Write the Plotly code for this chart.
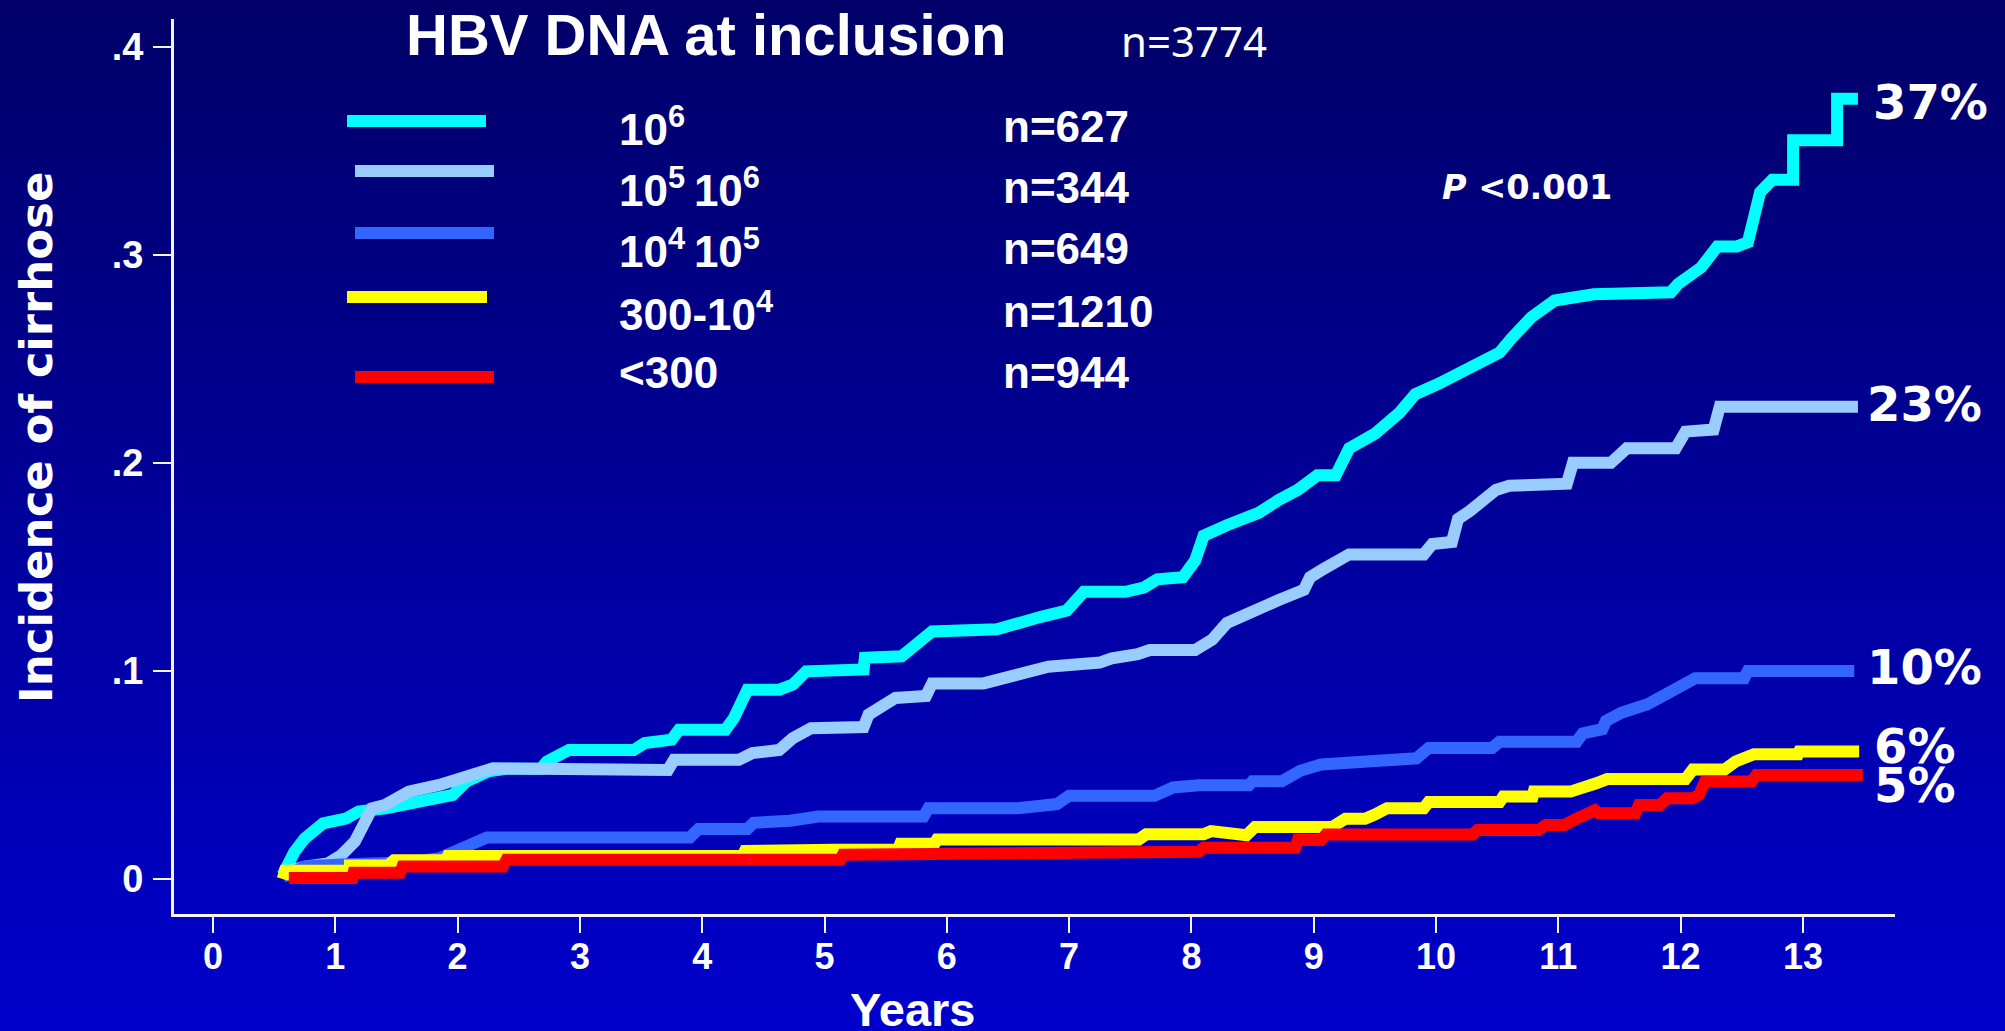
import plotly.graph_objects as go

# ---------------- data ----------------
group_labels = ["10<sup>6</sup>", "10<sup>5</sup>&#8201;10<sup>6</sup>", "10<sup>4</sup>&#8201;10<sup>5</sup>",
                "300-10<sup>4</sup>", "&lt;300"]
group_n = ["n=627", "n=344", "n=649", "n=1210", "n=944"]
end_labels = ["37%", "23%", "10%", "6%", "5%"]
colors = ["#00FFFF", "#99CCFF", "#3366FF", "#FFFF00", "#FF0000"]

x_ticks = list(range(0, 14))
y_ticks = [0, 0.1, 0.2, 0.3, 0.4]
y_ticktext = ["0", ".1", ".2", ".3", ".4"]

t_c1 = [0.57, 0.665, 0.75, 0.90, 1.085, 1.19, 1.41, 1.60, 1.85, 1.96, 2.07, 2.25, 2.40, 2.68, 2.73, 2.91,
        3.44, 3.53, 3.75, 3.81, 4.19, 4.26, 4.37, 4.63, 4.74, 4.85, 5.32, 5.33, 5.63, 5.73, 5.88, 6.41,
        6.57, 6.77, 6.98, 7.12, 7.46, 7.61, 7.72, 7.93, 8.03, 8.10, 8.29, 8.55, 8.71, 8.87, 9.03, 9.18,
        9.29, 9.50, 9.70, 9.83, 10.02, 10.18, 10.37, 10.52, 10.62, 10.78, 10.97, 11.29, 11.92, 11.98,
        12.17, 12.30, 12.46, 12.55, 12.60, 12.65, 12.75, 12.92, 12.92, 13.28, 13.28, 13.45]
v_c1 = [0.002, 0.013, 0.0195, 0.0267, 0.029, 0.0324, 0.034, 0.0364, 0.0388, 0.0404, 0.0468, 0.0517,
        0.053, 0.053, 0.0565, 0.062, 0.062, 0.0653, 0.067, 0.0717, 0.0717, 0.0774, 0.091, 0.091, 0.0934,
        0.0998, 0.1007, 0.1063, 0.107, 0.112, 0.119, 0.120, 0.123, 0.126, 0.129, 0.138, 0.138, 0.140,
        0.144, 0.145, 0.153, 0.165, 0.170, 0.176, 0.182, 0.187, 0.194, 0.194, 0.207, 0.214, 0.224, 0.233,
        0.238, 0.243, 0.248, 0.253, 0.260, 0.270, 0.278, 0.281, 0.282, 0.286, 0.294, 0.304, 0.304, 0.306,
        0.318, 0.330, 0.336, 0.336, 0.355, 0.355, 0.375, 0.375]

t_c2 = [0.555, 0.75, 0.94, 1.05, 1.16, 1.25, 1.30, 1.41, 1.60, 1.85, 2.00, 2.15, 2.29, 3.72, 3.77, 4.30,
        4.41, 4.63, 4.74, 4.89, 5.32, 5.36, 5.47, 5.58, 5.83, 5.88, 6.30, 6.51, 6.83, 7.25, 7.35, 7.56,
        7.66, 8.03, 8.17, 8.29, 8.50, 8.71, 8.92, 8.97, 9.08, 9.18, 9.29, 9.90, 9.97, 10.13, 10.18, 10.28,
        10.39, 10.49, 10.60, 11.07, 11.12, 11.43, 11.56, 11.96, 12.04, 12.27, 12.32, 13.45]
v_c2 = [0.0027, 0.0059, 0.0075, 0.0115, 0.018, 0.0276, 0.034, 0.0357, 0.042, 0.0452, 0.0484, 0.0517,
        0.0532, 0.0524, 0.0573, 0.0573, 0.0605, 0.062, 0.0677, 0.0725, 0.073, 0.079, 0.083, 0.087, 0.088,
        0.094, 0.094, 0.097, 0.102, 0.104, 0.106, 0.108, 0.110, 0.110, 0.115, 0.123, 0.129, 0.134, 0.139,
        0.145, 0.149, 0.153, 0.156, 0.156, 0.161, 0.162, 0.173, 0.177, 0.182, 0.187, 0.189, 0.190, 0.200,
        0.200, 0.207, 0.207, 0.215, 0.216, 0.227, 0.227]

t_c3 = [0.57, 0.75, 1.05, 1.60, 1.85, 1.96, 2.07, 2.24, 3.90, 3.97, 4.37, 4.42, 4.72, 4.95, 5.81, 5.85,
        6.58, 6.90, 7.00, 7.70, 7.85, 8.06, 8.47, 8.50, 8.74, 8.79, 8.89, 9.06, 9.50, 9.84, 9.94, 10.46,
        10.52, 11.15, 11.20, 11.36, 11.39, 11.52, 11.73, 11.94, 12.05, 12.12, 12.52, 12.55, 13.42]
v_c3 = [0.001, 0.006, 0.007, 0.008, 0.010, 0.0125, 0.0165, 0.020, 0.020, 0.024, 0.024, 0.027, 0.028,
        0.030, 0.030, 0.034, 0.034, 0.036, 0.040, 0.040, 0.044, 0.045, 0.045, 0.047, 0.047, 0.049, 0.052,
        0.055, 0.057, 0.058, 0.063, 0.063, 0.066, 0.066, 0.070, 0.072, 0.076, 0.080, 0.084, 0.090, 0.094,
        0.0965, 0.0965, 0.100, 0.100]

t_c4 = [0.57, 0.59, 1.12, 1.12, 1.43, 1.48, 1.90, 1.92, 4.33, 4.35, 5.08, 5.60, 5.62, 5.90, 5.92, 7.57,
        7.63, 8.10, 8.16, 8.45, 8.52, 9.15, 9.26, 9.42, 9.50, 9.60, 9.90, 9.94, 10.52, 10.55, 10.79, 10.80,
        11.10, 11.26, 11.31, 11.40, 12.04, 12.10, 12.36, 12.45, 12.55, 12.60, 12.96, 12.97, 13.46]
v_c4 = [0.000, 0.004, 0.004, 0.0065, 0.0065, 0.009, 0.009, 0.011, 0.011, 0.0135, 0.014, 0.014, 0.017,
        0.017, 0.019, 0.019, 0.0215, 0.0215, 0.023, 0.021, 0.025, 0.025, 0.029, 0.029, 0.031, 0.034, 0.034,
        0.037, 0.037, 0.0396, 0.0396, 0.042, 0.042, 0.044, 0.046, 0.048, 0.048, 0.0526, 0.0526, 0.0565,
        0.058, 0.060, 0.060, 0.0613, 0.0613]

t_c5 = [0.62, 1.14, 1.15, 1.53, 1.55, 2.37, 2.40, 5.13, 5.15, 6.95, 7.00, 8.06, 8.10, 8.85, 8.87, 9.06,
        9.10, 10.30, 10.34, 10.84, 10.90, 11.05, 11.15, 11.30, 11.33, 11.63, 11.66, 11.83, 11.89, 12.10,
        12.15, 12.20, 12.58, 12.62, 13.49]
v_c5 = [0.0005, 0.0005, 0.003, 0.003, 0.006, 0.006, 0.0093, 0.0093, 0.0117, 0.0117, 0.0131, 0.0131,
        0.015, 0.015, 0.0187, 0.0187, 0.0214, 0.0214, 0.0236, 0.0236, 0.026, 0.026, 0.029, 0.033, 0.0316,
        0.0316, 0.0356, 0.0356, 0.0388, 0.0388, 0.0404, 0.0468, 0.0468, 0.050, 0.050]

series_t = [t_c1, t_c2, t_c3, t_c4, t_c5]
series_v = [v_c1, v_c2, v_c3, v_c4, v_c5]

# ---------------- layout geometry (pixels) ----------------
W, H = 2005, 1031
L, R, T, B = 174, 110, 19, 117
PW, PH = W - L - R, H - T - B


def px(xp):
    return (xp - L) / PW


def py(yp):
    return (H - B - yp) / PH


ARIAL = "Liberation Sans, Arial, sans-serif"
VERD = "DejaVu Sans, Verdana, sans-serif"

fig = go.Figure()
for t, v, c in zip(series_t, series_v, colors):
    fig.add_trace(go.Scatter(x=t, y=v, mode="lines", line=dict(color=c, width=12),
                             hoverinfo="skip", showlegend=False))

shapes = []
# background vertical gradient
n_bands = 110
for i in range(n_bands):
    y0p = H * i / n_bands
    y1p = H * (i + 1) / n_bands
    b = int(round(104 + (204 - 104) * (i + 0.5) / n_bands))
    shapes.append(dict(type="rect", xref="paper", yref="paper", x0=px(-5), x1=px(W + 5),
                       y0=py(y1p + 0.6), y1=py(y0p), line=dict(width=0),
                       fillcolor=f"rgb(0,0,{b})", layer="below"))

# legend bars
bar_x = [(347, 486), (355, 494), (355, 494), (347, 487), (355, 494)]
bar_y = [121, 171, 233, 297, 377]
for (xa, xb), yy, c in zip(bar_x, bar_y, colors):
    shapes.append(dict(type="line", xref="paper", yref="paper", x0=px(xa), x1=px(xb),
                       y0=py(yy), y1=py(yy), line=dict(color=c, width=12)))

annotations = []


def txt(text, xp, yp, family, size, bold=True, xanchor="left", angle=0):
    annotations.append(dict(text=text, x=px(xp), y=py(yp), xref="paper", yref="paper",
                            xanchor=xanchor, yanchor="middle", showarrow=False, textangle=angle,
                            font=dict(family=family, size=size, color="white",
                                      weight="bold" if bold else "normal")))


txt("HBV DNA at inclusion", 404, 35, ARIAL, 58)
txt("n=3774", 1119, 40, "Noto Sans, sans-serif", 42, bold=False)

row_y = [126, 188, 248, 311, 372]
for lab, n, yy in zip(group_labels, group_n, row_y):
    txt(lab, 617, yy, ARIAL, 44)
    txt(n, 1001, yy, ARIAL, 44)

txt("<i>P</i> &lt;0.001", 1440, 187, VERD, 33.5)

end_pos = [(1871, 102), (1865, 404), (1865, 667), (1872, 746), (1872, 785)]
for lab, (xx, yy) in zip(end_labels, end_pos):
    txt(lab, xx, yy, VERD, 48)

txt("Incidence of cirrhose", 36, 438, VERD, 45, xanchor="center", angle=-90)
txt("Years", 912, 1010, ARIAL, 47, xanchor="center")

fig.update_layout(
    width=W, height=H, autosize=False,
    margin=dict(l=L, r=R, t=T, b=B, autoexpand=False),
    paper_bgcolor="rgb(0,0,154)", plot_bgcolor="rgba(0,0,0,0)",
    shapes=shapes, annotations=annotations, showlegend=False,
    xaxis=dict(range=[(L - 213) / 122.3, (L + PW - 213) / 122.3], tickvals=x_ticks,
               ticktext=[str(v) for v in x_ticks], showgrid=False, zeroline=False,
               showline=True, linecolor="#F4F4FF", linewidth=3, ticks="outside", ticklen=16,
               tickwidth=2, tickcolor="#F4F4FF", ticklabelstandoff=-7,
               tickfont=dict(family=ARIAL, size=36, color="white", weight="bold")),
    yaxis=dict(range=[-35 / 2080.75, (879 - 19) / 2080.75], tickvals=y_ticks, ticktext=y_ticktext,
               showgrid=False, zeroline=False, showline=True, linecolor="#F4F4FF", linewidth=3,
               ticks="outside", ticklen=18, tickwidth=2, tickcolor="#F4F4FF", ticklabelstandoff=2,
               tickfont=dict(family=ARIAL, size=38, color="white", weight="bold")),
)

fig.write_html("out.html", config={"displayModeBar": False},
               post_script="document.body.style.margin='0';document.body.style.overflow='hidden';")
